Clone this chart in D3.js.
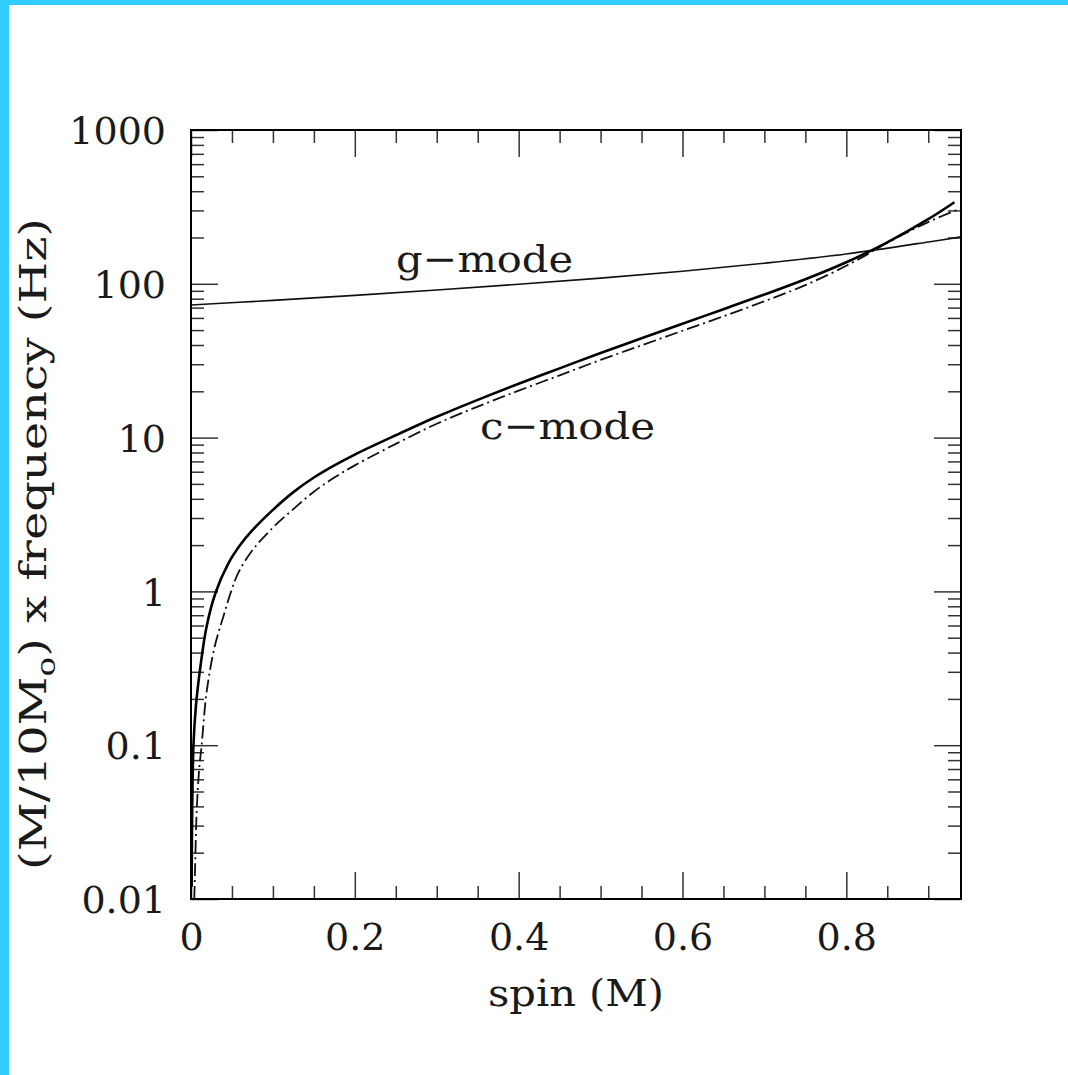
<!DOCTYPE html>
<html>
<head>
<meta charset="utf-8">
<script src="https://cdn.jsdelivr.net/npm/d3@7"></script>
<style>
	body { margin: 0; background: #fff; }
	text { font-family: "DejaVu Serif", serif; fill: #1a1a1a; }
</style>
</head>
<body>
<script>

// spin values and frequencies
const gSpin = [0, 0.1, 0.2, 0.3, 0.4, 0.5, 0.6, 0.7, 0.8, 0.9, 0.94];
const gFreq = [72.8, 78, 84.1, 91.2, 99.3, 108.9, 120.8, 136.1, 156.3, 187, 202];

// solid c-mode curve
const cSpin = [0.0008, 0.0015, 0.003, 0.006, 0.011, 0.019, 0.03, 0.045, 0.06, 0.075, 0.1, 0.125, 0.15, 0.175,
	0.2, 0.25, 0.3, 0.35, 0.4, 0.45, 0.5, 0.55, 0.6, 0.65, 0.7, 0.75, 0.8, 0.85, 0.9, 0.932];
const cFreq = [0.012, 0.04, 0.1, 0.18, 0.31, 0.59, 0.98, 1.5, 2.0, 2.5, 3.39, 4.42, 5.5, 6.6,
	7.76, 10.35, 13.65, 17.6, 22.4, 28.2, 35.5, 44.2, 55, 68.4, 85.1, 107, 138, 186, 263, 339];

// dash-dot c-mode curve
const dSpin = [0.004, 0.005, 0.007, 0.01, 0.013, 0.019, 0.029, 0.04, 0.049, 0.058, 0.075, 0.1, 0.125, 0.15, 0.175,
	0.2, 0.25, 0.3, 0.35, 0.4, 0.45, 0.5, 0.55, 0.6, 0.65, 0.7, 0.75, 0.8, 0.835, 0.85, 0.9, 0.94];
const dFreq = [0.01, 0.016, 0.038, 0.07, 0.1, 0.22, 0.44, 0.7, 1.0, 1.33, 1.85, 2.6, 3.43, 4.45, 5.5,
	6.6, 9.1, 12.3, 15.9, 20.2, 25.4, 32.0, 39.8, 49.5, 61.5, 77, 98, 131, 166, 185, 252, 310];

// tick values and labels
const xMajor = [0, 0.2, 0.4, 0.6, 0.8];
const xMinor = [0.05, 0.1, 0.15, 0.25, 0.3, 0.35, 0.45, 0.5, 0.55, 0.65, 0.7, 0.75, 0.85, 0.9];
const xLabels = ["0", "0.2", "0.4", "0.6", "0.8"];
const yMajor = [0.01, 0.1, 1, 10, 100, 1000];
const yLabels = ["0.01", "0.1", "1", "10", "100", "1000"];

let width = 1068,
	height = 1075;

let margin = {top: 130, right: 107, bottom: 176, left: 191};
let plotW = width - margin.left - margin.right,
	plotH = height - margin.top - margin.bottom;

let svg = d3.select("body").append("svg")
	.attr("width", width)
	.attr("height", height);

// cyan frame strips on top and left
svg.append("rect").attr("x", 0).attr("y", 0).attr("width", width).attr("height", 5).attr("fill", "#33ccff");
svg.append("rect").attr("x", 0).attr("y", 0).attr("width", 9).attr("height", height).attr("fill", "#33ccff");

let g = svg.append("g")
	.attr("transform", "translate(" + margin.left + "," + margin.top + ")");

const x = d3.scaleLinear().domain([0, 0.94]).range([0, plotW]);
const y = d3.scaleLog().domain([0.01, 1000]).range([plotH, 0]);

// minor y ticks: 2..9 in each decade
let yMinor = [];
yMajor.slice(0, -1).forEach(function(v) {
	for (let k = 2; k < 10; k++) yMinor.push(v * k);
});

const majorLen = 27, minorLen = 13;

function styleAxis(sel) {
	sel.select(".domain").remove();
	sel.selectAll(".tick line").attr("stroke", "#333").attr("stroke-width", 1.5);
	sel.selectAll("text").attr("font-size", 38).attr("font-family", "DejaVu Serif").attr("fill", "#1a1a1a");
}

// bottom axis
g.append("g").attr("transform", "translate(0," + plotH + ")")
	.call(d3.axisBottom(x).tickValues(xMajor).tickSize(-majorLen).tickPadding(24)
		.tickFormat(function(d, i) { return xLabels[i]; }))
	.call(styleAxis);
g.append("g").attr("transform", "translate(0," + plotH + ")")
	.call(d3.axisBottom(x).tickValues(xMinor).tickSize(-minorLen).tickFormat(""))
	.call(styleAxis);

// top axis
g.append("g")
	.call(d3.axisTop(x).tickValues(xMajor).tickSize(-majorLen).tickFormat(""))
	.call(styleAxis);
g.append("g")
	.call(d3.axisTop(x).tickValues(xMinor).tickSize(-minorLen).tickFormat(""))
	.call(styleAxis);

// left axis
g.append("g")
	.call(d3.axisLeft(y).tickValues(yMajor).tickSize(-majorLen).tickPadding(25)
		.tickFormat(function(d, i) { return yLabels[i]; }))
	.call(styleAxis)
	.selectAll("text").attr("dy", "0.36em");
g.append("g")
	.call(d3.axisLeft(y).tickValues(yMinor).tickSize(-minorLen).tickFormat(""))
	.call(styleAxis);

// right axis
g.append("g").attr("transform", "translate(" + plotW + ",0)")
	.call(d3.axisRight(y).tickValues(yMajor).tickSize(-majorLen).tickFormat(""))
	.call(styleAxis);
g.append("g").attr("transform", "translate(" + plotW + ",0)")
	.call(d3.axisRight(y).tickValues(yMinor).tickSize(-minorLen).tickFormat(""))
	.call(styleAxis);

// plot frame
g.append("rect")
	.attr("width", plotW)
	.attr("height", plotH)
	.attr("fill", "none")
	.attr("stroke", "#000")
	.attr("stroke-width", 2);

let line = d3.line()
	.x(function(d) { return x(d[0]); })
	.y(function(d) { return y(d[1]); })
	.curve(d3.curveCatmullRom.alpha(0.5));

function zip(a, b) { return a.map(function(v, i) { return [v, b[i]]; }); }

g.append("path").datum(zip(gSpin, gFreq))
	.attr("d", line).attr("fill", "none").attr("stroke", "#111").attr("stroke-width", 1.6);

g.append("path").datum(zip(dSpin, dFreq))
	.attr("d", line).attr("fill", "none").attr("stroke", "#111").attr("stroke-width", 1.8)
	.attr("stroke-dasharray", "13,4,2,4");

g.append("path").datum(zip(cSpin, cFreq))
	.attr("d", line).attr("fill", "none").attr("stroke", "#000").attr("stroke-width", 2.6);

// curve labels (reference font is wider, so glyphs are stretched to its widths)
svg.append("text").attr("x", 396).attr("y", 272)
	.attr("font-size", 38).attr("textLength", 177).attr("lengthAdjust", "spacingAndGlyphs")
	.text("g\u2212mode");
svg.append("text").attr("x", 480).attr("y", 439)
	.attr("font-size", 38).attr("textLength", 175).attr("lengthAdjust", "spacingAndGlyphs")
	.text("c\u2212mode");

// axis titles
svg.append("text").attr("x", 576).attr("y", 1006)
	.attr("text-anchor", "middle").attr("font-size", 38)
	.attr("textLength", 176).attr("lengthAdjust", "spacingAndGlyphs")
	.text("spin (M)");

let yTitle = svg.append("text")
	.attr("transform", "translate(46,544) rotate(-90)")
	.attr("text-anchor", "middle").attr("font-size", 38)
	.attr("textLength", 652).attr("lengthAdjust", "spacingAndGlyphs");
yTitle.append("tspan").text("(M/10M");
yTitle.append("tspan").attr("font-size", 26).attr("dy", 9).text("o");
yTitle.append("tspan").attr("dy", -9).text(") x frequency (Hz)");

</script>
</body>
</html>
